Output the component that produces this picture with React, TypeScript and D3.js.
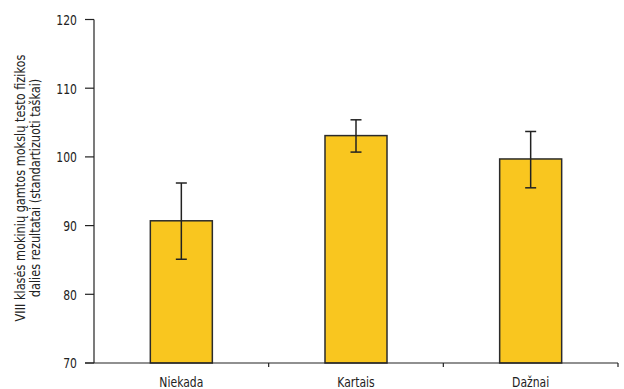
import React from "react";
import * as d3 from "d3";

const categories = ["Niekada", "Kartais", "Dažnai"];
const means = [90.7, 103.1, 99.7];
const lower = [85.1, 100.7, 95.5];
const upper = [96.2, 105.4, 103.7];
const yTicks = [70, 80, 90, 100, 110, 120];
const yLabelLines = [
  "VIII klasės mokinių gamtos mokslų testo fizikos",
  "dalies rezultatai (standartizuoti taškai)",
];

const W = 624;
const H = 389;
const left = 94;
const right = 618;
const top = 19.5;
const bottom = 363;
const FONT = "'DejaVu Sans Condensed', 'Liberation Sans Narrow', sans-serif";
const SX = 0.86;

export default function App() {
  const x = d3.scaleBand<string>().domain(categories).range([left, right]).padding(0);
  const y = d3.scaleLinear().domain([70, 120]).range([bottom, top]);
  const barW = x.bandwidth() * 0.355;
  const capW = 11;
  const boundaries = categories.map((c) => (x(c) as number) + x.bandwidth());

  return (
    <svg width={W} height={H} style={{ position: "absolute", left: 0, top: 0 }}>
      <rect x={0} y={0} width={W} height={H} fill="#fff" />
      {categories.map((c, i) => {
        const cx = (x(c) as number) + x.bandwidth() / 2;
        return (
          <g key={c}>
            <rect
              x={cx - barW / 2}
              y={y(means[i])}
              width={barW}
              height={y(70) - y(means[i])}
              fill="#F9C61F"
              stroke="#2b2b2b"
              strokeWidth={1.5}
            />
            <line x1={cx} x2={cx} y1={y(lower[i])} y2={y(upper[i])} stroke="#222" strokeWidth={1.5} />
            <line x1={cx - capW / 2} x2={cx + capW / 2} y1={y(upper[i])} y2={y(upper[i])} stroke="#222" strokeWidth={1.5} />
            <line x1={cx - capW / 2} x2={cx + capW / 2} y1={y(lower[i])} y2={y(lower[i])} stroke="#222" strokeWidth={1.5} />
          </g>
        );
      })}
      <line x1={left} x2={left} y1={top} y2={bottom} stroke="#222" strokeWidth={1.2} />
      {yTicks.map((t) => (
        <g key={t}>
          <line x1={left - 9} x2={left} y1={y(t)} y2={y(t)} stroke="#222" strokeWidth={1.2} />
          <text
            transform={`translate(${left - 17},${y(t)}) scale(${SX},1)`}
            dy="0.38em"
            textAnchor="end"
            fontFamily={FONT}
            fontSize={14}
            fill="#222"
          >
            {t}
          </text>
        </g>
      ))}
      <line x1={left - 9} x2={right} y1={bottom} y2={bottom} stroke="#222" strokeWidth={1.2} />
      {boundaries.map((b, i) => (
        <line key={i} x1={b} x2={b} y1={bottom} y2={bottom + 4} stroke="#222" strokeWidth={1.2} />
      ))}
      {categories.map((c) => (
        <text
          key={c}
          transform={`translate(${(x(c) as number) + x.bandwidth() / 2},387) scale(${SX},1)`}
          textAnchor="middle"
          fontFamily={FONT}
          fontSize={14}
          fill="#222"
        >
          {c}
        </text>
      ))}
      {yLabelLines.map((l, i) => (
        <text
          key={i}
          transform={`translate(${25 + i * 15},${188}) rotate(-90) scale(0.9,1)`}
          textAnchor="middle"
          fontFamily={FONT}
          fontSize={14}
          fill="#222"
        >
          {l}
        </text>
      ))}
    </svg>
  );
}
